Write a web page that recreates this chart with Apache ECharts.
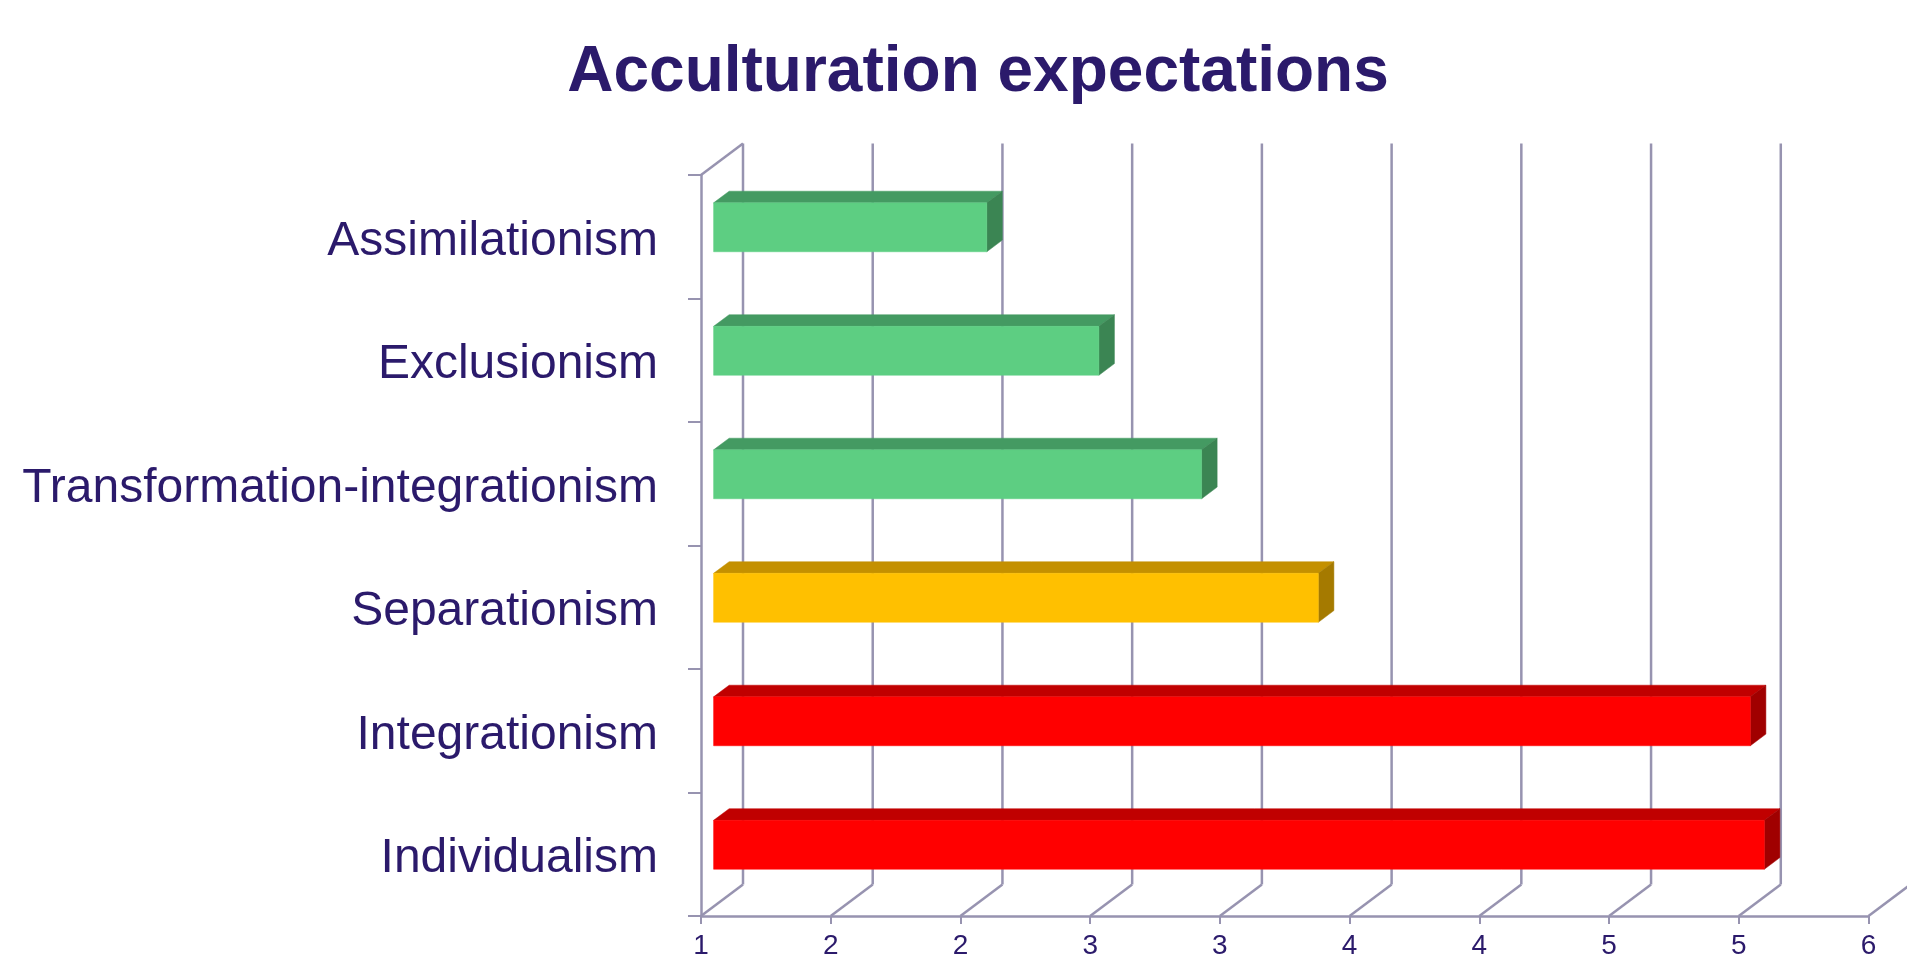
<!DOCTYPE html>
<html>
<head>
<meta charset="utf-8">
<script src="https://cdn.jsdelivr.net/npm/echarts@6/dist/echarts.min.js"></script>
<style>html,body{margin:0;padding:0;background:#fff}#c{width:1907px;height:960px}</style>
</head>
<body>
<div id="c"></div>
<script>
// ---- data ----
const categories = ['Assimilationism','Exclusionism','Transformation-integrationism','Separationism','Integrationism','Individualism'];
const values = [2.17, 2.65, 3.09, 3.59, 5.44, 5.50];
const tickLabels = ['1','2','2','3','3','4','4','5','5','6'];
const axisMin = 1, axisMax = 6;

// ---- styles ----
const green = {front:'#5DCE82', top:'#449A62', side:'#3B8553'};
const yellow = {front:'#FFC000', top:'#C49000', side:'#A57A00'};
const red = {front:'#FF0000', top:'#C00000', side:'#A00000'};
const barStyles = [green, green, green, yellow, red, red];
const textColor = '#2B1A6B';
const lineColor = '#9793B0';
const depth = [42, -31.5];     // 3D depth vector in px
const f0 = 0.30, f1 = 0.67;    // bar front/back depth fractions
const barFrac = 0.396;         // bar height relative to band

const chart = echarts.init(document.getElementById('c'));

function renderBar(params, api) {
  const v = api.value(0), ci = api.value(1);
  const c0 = api.coord([axisMin, ci]);
  const c1 = api.coord([v, ci]);
  const band = api.size([0, 1])[1];
  const h = band * barFrac;
  const ox = depth[0] * f0, oy = depth[1] * f0;
  const dx = depth[0] * (f1 - f0), dy = depth[1] * (f1 - f0);
  const x0 = c0[0] + ox, x1 = c1[0] + ox;
  const yt = c0[1] + oy - h / 2, yb = c0[1] + oy + h / 2;
  const st = barStyles[ci];
  return {
    type: 'group',
    children: [
      {type:'polygon', shape:{points:[[x0,yt],[x1,yt],[x1+dx,yt+dy],[x0+dx,yt+dy]]}, style:{fill:st.top, stroke:st.top, lineWidth:0.5}},
      {type:'polygon', shape:{points:[[x1,yt],[x1+dx,yt+dy],[x1+dx,yb+dy],[x1,yb]]}, style:{fill:st.side, stroke:st.side, lineWidth:0.5}},
      {type:'rect', shape:{x:x0, y:yt, width:x1-x0, height:yb-yt}, style:{fill:st.front, stroke:st.front, lineWidth:0.5}}
    ]
  };
}

function renderFrame(params, api) {
  const i = api.value(0);
  const cs = params.coordSys;
  const p = api.coord([i, 0]);
  const x = p[0];
  const yf = cs.y + cs.height, yt = cs.y;
  const st = {stroke:lineColor, lineWidth:2.5};
  const children = [
    {type:'line', shape:{x1:x, y1:yf, x2:x+depth[0], y2:yf+depth[1]}, style:st},
    {type:'line', shape:{x1:x+depth[0], y1:yf+depth[1], x2:x+depth[0], y2:yt+depth[1]}, style:st}
  ];
  if (i === 0) {
    children.push({type:'line', shape:{x1:x, y1:yt, x2:x+depth[0], y2:yt+depth[1]}, style:st});
  }
  return {type:'group', children};
}

chart.setOption({
  animation: false,
  backgroundColor: '#fff',
  title: {
    text: 'Acculturation expectations',
    left: 973, top: 36, textAlign: 'center',
    textStyle: {fontFamily: 'Liberation Sans, Arial, sans-serif', fontWeight: 'bold', fontSize: 64, color: textColor}
  },
  grid: {left: 701, right: 38.5, top: 175, bottom: 42, containLabel: false},
  xAxis: [
    {type:'value', min: axisMin, max: axisMax, show: false},
    {type:'value', min: 0, max: tickLabels.length - 1, interval: 1, position: 'bottom',
     axisLine: {show: true, lineStyle: {color: lineColor, width: 2.5}},
     axisTick: {show: true, length: 8, lineStyle: {color: lineColor, width: 2}},
     splitLine: {show: false},
     axisLabel: {formatter: (val) => tickLabels[Math.round(val)], fontSize: 28, color: textColor, margin: 16,
                 fontFamily: 'Liberation Sans, Arial, sans-serif'}}
  ],
  yAxis: {
    type: 'category', data: categories, inverse: true,
    axisLine: {show: true, lineStyle: {color: lineColor, width: 2.5}},
    axisTick: {show: true, length: 13, lineStyle: {color: lineColor, width: 2}},
    splitLine: {show: false},
    axisLabel: {margin: 43, formatter: (v) => '{a|' + v + '}',
                rich: {a: {fontSize: 48, color: textColor, padding: [10, 0, 0, 0], fontFamily: 'Liberation Sans, Arial, sans-serif'}}}
  },
  series: [
    {type:'custom', xAxisIndex: 1, yAxisIndex: 0, renderItem: renderFrame, silent: true, z: 1,
     data: tickLabels.map((_, i) => [i])},
    {type:'custom', xAxisIndex: 0, yAxisIndex: 0, renderItem: renderBar, z: 2,
     data: values.map((v, i) => [v, i])}
  ]
});
</script>
</body>
</html>
